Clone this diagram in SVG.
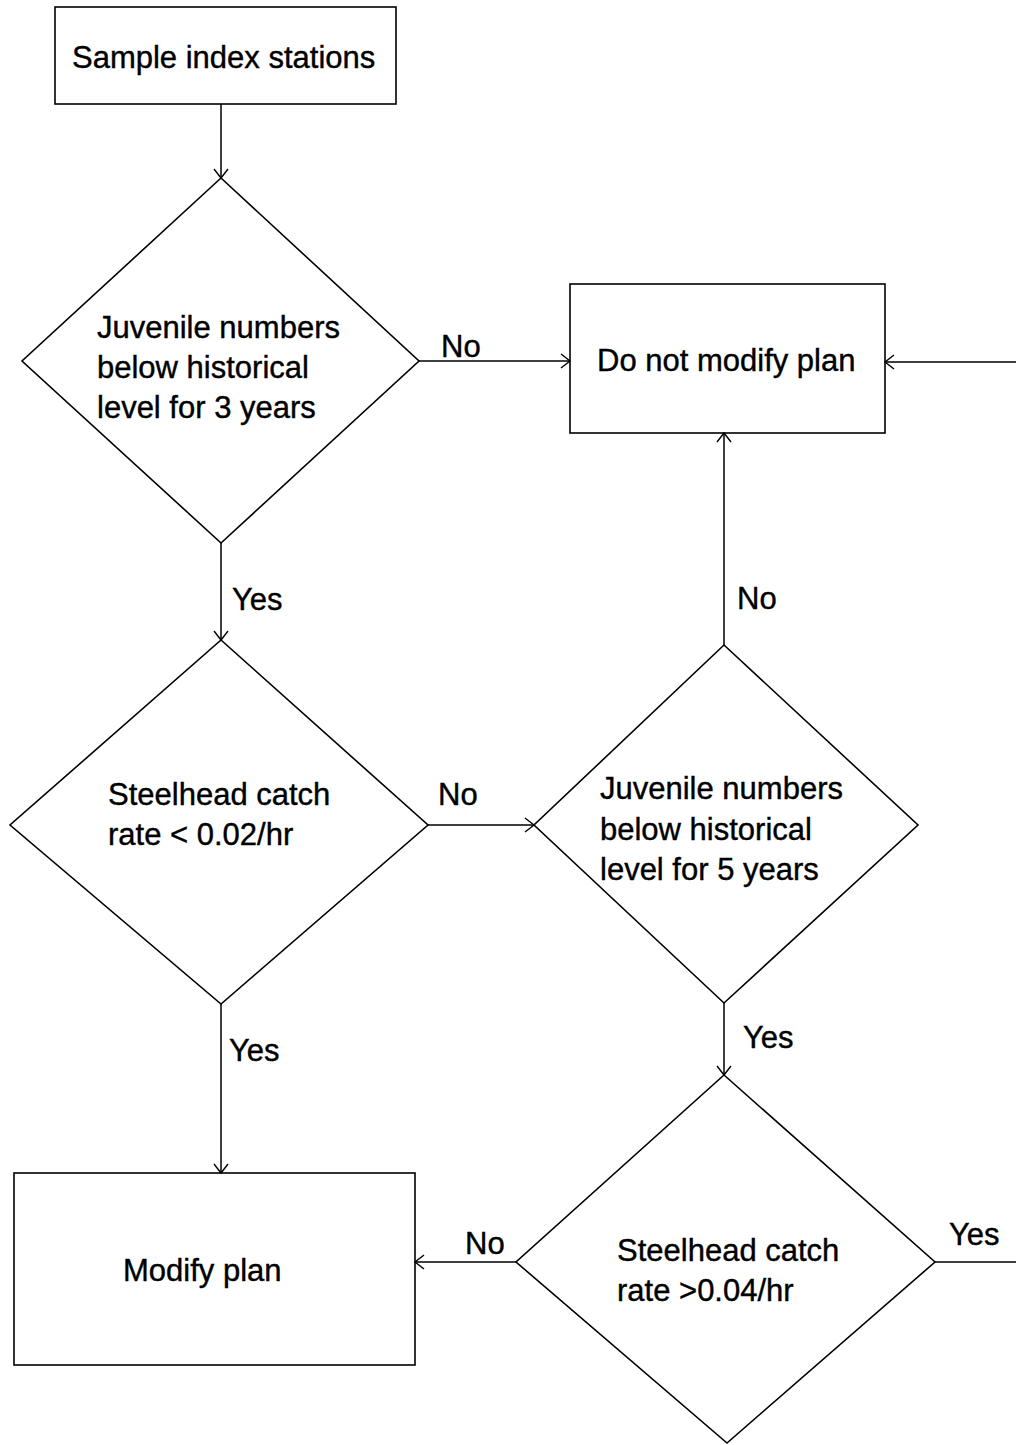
<svg xmlns="http://www.w3.org/2000/svg" width="1016" height="1445" viewBox="0 0 1016 1445">
<style>
.n{fill:#fff;stroke:#000;stroke-width:1.6}
.t{font-family:"Liberation Sans",Arial,sans-serif;font-size:31px;fill:#000;stroke:#000;stroke-width:0.4}
.c{stroke:#000;stroke-width:1.5;fill:none}
</style>
<defs>
<marker id="a" markerUnits="userSpaceOnUse" markerWidth="24" markerHeight="24" viewBox="-12 -12 24 24" refX="0" refY="0" orient="auto" overflow="visible">
<path d="M-9,-7 L0,0 L-9,7" fill="none" stroke="#000" stroke-width="1.4"/>
</marker>
</defs>
<g id="n1"><rect class="n" x="55" y="7" width="341" height="97"/><text class="t" x="72" y="68">Sample index stations</text></g>
<g id="n2"><polygon class="n" points="221,178 419,361 221,543 22,361"/><text class="t" x="97" y="338">Juvenile numbers</text><text class="t" x="97" y="378">below historical</text><text class="t" x="97" y="418">level for 3 years</text></g>
<g id="n3"><rect class="n" x="570" y="284" width="315" height="149"/><text class="t" x="597" y="371">Do not modify plan</text></g>
<g id="n4"><polygon class="n" points="221,640 428,825 221,1004 10,825"/><text class="t" x="108" y="805">Steelhead catch</text><text class="t" x="108" y="845">rate &lt; 0.02/hr</text></g>
<g id="n5"><polygon class="n" points="724,645 918,825 724,1003 534,825"/><text class="t" x="600" y="799">Juvenile numbers</text><text class="t" x="600" y="840">below historical</text><text class="t" x="600" y="880">level for 5 years</text></g>
<g id="n6"><rect class="n" x="14" y="1173" width="401" height="192"/><text class="t" x="123" y="1281">Modify plan</text></g>
<g id="n7"><polygon class="n" points="724,1075 935,1262 727,1443 516,1262"/><text class="t" x="617" y="1261">Steelhead catch</text><text class="t" x="617" y="1301">rate &gt;0.04/hr</text></g>
<g id="connectors">
<line class="c" x1="221" y1="104" x2="221" y2="178" marker-end="url(#a)"/>
<line class="c" x1="419" y1="361" x2="570" y2="361" marker-end="url(#a)"/>
<line class="c" x1="1016" y1="362" x2="885" y2="362" marker-end="url(#a)"/>
<line class="c" x1="221" y1="543" x2="221" y2="640" marker-end="url(#a)"/>
<line class="c" x1="428" y1="825" x2="534" y2="825" marker-end="url(#a)"/>
<line class="c" x1="724" y1="645" x2="724" y2="433" marker-end="url(#a)"/>
<line class="c" x1="221" y1="1004" x2="221" y2="1173" marker-end="url(#a)"/>
<line class="c" x1="724" y1="1003" x2="724" y2="1075" marker-end="url(#a)"/>
<line class="c" x1="516" y1="1262" x2="415" y2="1262" marker-end="url(#a)"/>
<line class="c" x1="935" y1="1262" x2="1016" y2="1262"/>
<text class="t" x="441" y="357">No</text>
<text class="t" x="232" y="610">Yes</text>
<text class="t" x="438" y="805">No</text>
<text class="t" x="737" y="609">No</text>
<text class="t" x="229" y="1061">Yes</text>
<text class="t" x="743" y="1048">Yes</text>
<text class="t" x="465" y="1254">No</text>
<text class="t" x="949" y="1245">Yes</text>
</g>
</svg>
